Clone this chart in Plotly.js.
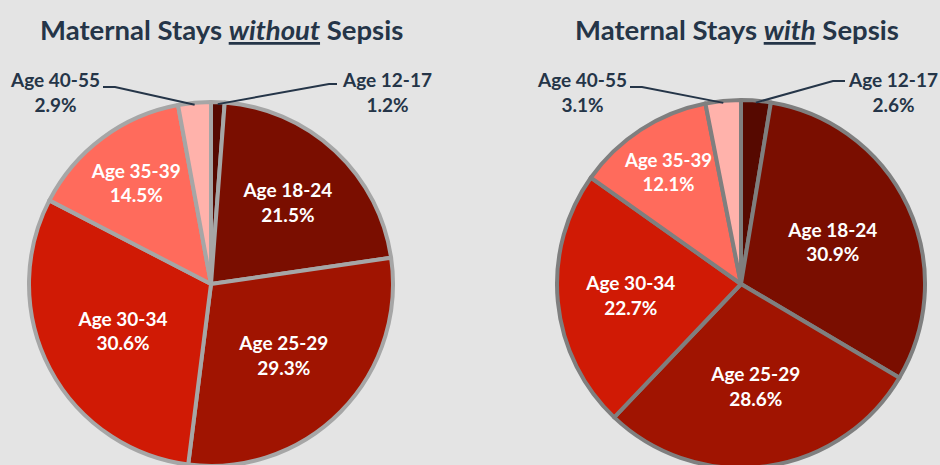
<!DOCTYPE html>
<html>
<head>
<meta charset="utf-8">
<script src="https://cdn.plot.ly/plotly-3.0.1.min.js"></script>
<style>
html, body { margin: 0; padding: 0; overflow: hidden; background: #e4e4e4; }
#chart { width: 940px; height: 480px; }
</style>
</head>
<body>
<div id="chart"></div>
<script>
// ---- data ----
const ageGroups = ["Age 12-17", "Age 18-24", "Age 25-29", "Age 30-34", "Age 35-39", "Age 40-55"];
const withoutSepsis = [1.2, 21.5, 29.3, 30.6, 14.5, 2.9];
const withSepsis = [2.6, 30.9, 28.6, 22.7, 12.1, 3.1];
const chartTitles = ["Maternal Stays <u><i>without</i></u> Sepsis", "Maternal Stays <u><i>with</i></u> Sepsis"];
const outsideLabels = ["Age 12-17", "Age 40-55"];

// ---- styling ----
const W = 940, H = 480;
const sliceColors = ["#560900", "#7a0e00", "#a01401", "#d01a05", "#ff6b5c", "#ffb2ab"];
const navy = "#253548";
const FONT = "Lato, 'Open Sans', sans-serif";

// pie geometry in pixels (outer box of each pie)
const pies = [
  { x0: 29, x1: 393, y0: 102, y1: 466, border: "#a6a6a6", values: withoutSepsis },
  { x0: 557, x1: 925, y0: 100, y1: 468, border: "#7f7f7f", values: withSepsis }
];

// label layout (pixels): label center, elbow, line end near label
const labelLayout = [
  { // without
    "Age 12-17": { lx: 387, ly: 92, elbow: [329, 84], end: [337, 84] },
    "Age 40-55": { lx: 55, ly: 92, elbow: [115, 87], end: [103, 87] }
  },
  { // with
    "Age 12-17": { lx: 893, ly: 92, elbow: [833, 81], end: [845, 81] },
    "Age 40-55": { lx: 582, ly: 92, elbow: [642, 87], end: [630, 87] }
  }
];

const px = x => x / W;
const py = y => 1 - y / H;

const data = [];
const annotations = [];
const shapes = [];

pies.forEach((p, i) => {
  const textpos = ageGroups.map(g => outsideLabels.includes(g) ? "none" : "inside");
  data.push({
    type: "pie",
    labels: ageGroups,
    values: p.values,
    sort: false,
    direction: "clockwise",
    rotation: 0,
    domain: { x: [px(p.x0), px(p.x1)], y: [py(p.y1), py(p.y0)] },
    marker: { colors: sliceColors, line: { color: p.border, width: 4 } },
    texttemplate: "%{label}<br>%{value:.1f}%",
    textposition: textpos,
    insidetextorientation: "horizontal",
    insidetextfont: { family: FONT, size: 19, color: "#ffffff", weight: "bold" },
    hoverinfo: "label+value",
    showlegend: false
  });

  // title
  annotations.push({
    xref: "paper", yref: "paper",
    x: px((p.x0 + p.x1) / 2 + (i === 0 ? 10 : -4)), y: py(29),
    xanchor: "center", yanchor: "middle",
    text: "<b>" + chartTitles[i] + "</b>",
    showarrow: false,
    font: { family: FONT, size: 27.5, color: navy }
  });

  // outside labels with leader lines
  const cx = (p.x0 + p.x1) / 2, cy = (p.y0 + p.y1) / 2, r = (p.x1 - p.x0) / 2 - 2;
  const total = p.values.reduce((a, b) => a + b, 0);
  let cum = 0;
  ageGroups.forEach((g, k) => {
    const v = p.values[k];
    const mid = (cum + v / 2) / total * 2 * Math.PI;
    cum += v;
    if (!outsideLabels.includes(g)) return;
    const ex = cx + r * Math.sin(mid), ey = cy - r * Math.cos(mid);
    const L = labelLayout[i][g];
    shapes.push({
      type: "path", xref: "paper", yref: "paper",
      path: `M ${px(ex)} ${py(ey)} L ${px(L.elbow[0])} ${py(L.elbow[1])} L ${px(L.end[0])} ${py(L.end[1])}`,
      line: { color: navy, width: 2 }
    });
    annotations.push({
      xref: "paper", yref: "paper",
      x: px(L.lx), y: py(L.ly),
      xanchor: "center", yanchor: "middle",
      text: "<b>" + g + "<br>" + v.toFixed(1) + "%</b>",
      showarrow: false,
      font: { family: FONT, size: 19, color: navy }
    });
  });
});

const layout = {
  width: W, height: H,
  margin: { l: 0, r: 0, t: 0, b: 0 },
  paper_bgcolor: "#e4e4e4",
  plot_bgcolor: "#e4e4e4",
  annotations: annotations,
  shapes: shapes,
  showlegend: false
};

Plotly.newPlot("chart", data, layout, { displayModeBar: false, staticPlot: true });
</script>
</body>
</html>
